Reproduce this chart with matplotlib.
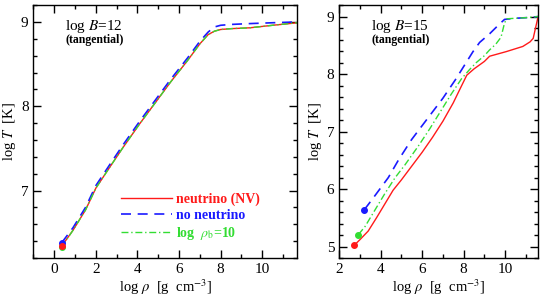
import matplotlib
matplotlib.use("Agg")
import matplotlib.pyplot as plt
from matplotlib.ticker import MultipleLocator

plt.rcParams["font.family"] = ["Liberation Serif", "DejaVu Serif"]
plt.rcParams["mathtext.fontset"] = "stix"

# log B = 12 panel
b12_nv_x = [0.35, 0.9, 1.5, 2.0, 2.7, 3.3, 4.1, 5.6, 6.4, 7.0, 7.4, 7.7, 8.0, 8.5, 9.4, 10.5, 11.7]
b12_nv_y = [6.34, 6.53, 6.77, 7.03, 7.29, 7.51, 7.79, 8.29, 8.54, 8.74, 8.85, 8.89, 8.91, 8.92, 8.93, 8.96, 8.99]
b12_nonu_x = [0.35, 0.9, 1.5, 2.0, 2.7, 3.3, 4.1, 5.6, 6.4, 7.0, 7.4, 7.7, 8.0, 8.5, 9.4, 10.5, 11.7]
b12_nonu_y = [6.38, 6.56, 6.80, 7.06, 7.32, 7.54, 7.82, 8.32, 8.57, 8.77, 8.88, 8.94, 8.96, 8.97, 8.98, 8.99, 9.00]
b12_rb_x = b12_nv_x
b12_rb_y = [6.33, 6.53, 6.77, 7.03, 7.29, 7.51, 7.79, 8.29, 8.54, 8.74, 8.85, 8.89, 8.91, 8.92, 8.93, 8.96, 8.99]

# log B = 15 panel
b15_nv_x = [2.72, 3.0, 3.4, 3.8, 4.2, 4.6, 5.0, 5.5, 6.0, 6.5, 7.0, 7.5, 7.85, 8.15, 8.5, 9.0, 9.25,
            10.05, 10.85, 11.2, 11.35, 11.45, 11.55, 11.6]
b15_nv_y = [5.02, 5.12, 5.27, 5.50, 5.74, 5.98, 6.16, 6.40, 6.64, 6.90, 7.18, 7.50, 7.76, 7.98, 8.09, 8.22, 8.31,
            8.39, 8.48, 8.56, 8.62, 8.78, 8.94, 9.00]
b15_nonu_x = [3.21, 3.57, 4.37, 4.85, 5.49, 6.37, 7.0, 7.6, 8.45, 8.77, 9.25, 9.7, 9.97, 10.5, 11.0, 11.6]
b15_nonu_y = [5.64, 5.81, 6.20, 6.50, 6.86, 7.28, 7.58, 7.90, 8.39, 8.55, 8.70, 8.86, 8.95, 8.97, 8.98, 9.00]
b15_rb_x = [2.93, 3.25, 3.7, 4.2, 4.7, 5.17, 5.8, 6.37, 6.85, 7.4, 7.9, 8.29, 8.61, 9.0, 9.25, 9.55, 9.8,
            9.95, 10.05, 10.5, 11.0, 11.6]
b15_rb_y = [5.21, 5.35, 5.62, 5.92, 6.20, 6.42, 6.74, 7.05, 7.33, 7.65, 7.92, 8.08, 8.20, 8.32, 8.42, 8.52, 8.64,
            8.86, 8.96, 8.97, 8.98, 9.00]

RED = "#ff1a1a"
BLUE = "#1a1aff"
GREEN = "#33dd33"
DASH = (0, (6, 4))
DASHDOT = (0, (5, 2, 1, 2))


def style_axes(ax, xlim, ylim):
    ax.set_xlim(*xlim)
    ax.set_ylim(*ylim)
    ax.xaxis.set_major_locator(MultipleLocator(2))
    ax.xaxis.set_minor_locator(MultipleLocator(1))
    ax.yaxis.set_major_locator(MultipleLocator(1))
    ax.yaxis.set_minor_locator(MultipleLocator(0.2))
    ax.tick_params(which="both", direction="in", top=True, right=True, labelsize=11, width=1.0)
    ax.tick_params(which="major", length=6)
    ax.tick_params(which="minor", length=3)
    for sp in ax.spines.values():
        sp.set_linewidth(1.0)
    ax.set_xlabel(r"log $\rho$  [g  cm$^{-3}$]", fontsize=10.5, labelpad=1)
    ax.set_ylabel(r"log $T$  [K]", fontsize=10.5, labelpad=2)


def draw(ax, nv, nonu, rb):
    ax.plot(*nv, color=RED, lw=1.0, label="neutrino (NV)")
    ax.plot(*nonu, color=BLUE, lw=1.2, ls=DASH, label="no neutrino")
    ax.plot(*rb, color=GREEN, lw=1.0, ls=DASHDOT, label=r"log  $\rho_{\rm b}$=10")
    ax.plot(nonu[0][0], nonu[1][0], "o", color=BLUE, ms=4)
    ax.plot(rb[0][0], rb[1][0], "o", color=GREEN, ms=4)
    ax.plot(nv[0][0], nv[1][0], "o", color=RED, ms=4)


fig = plt.figure(figsize=(5.4, 2.96), dpi=100)
ax1 = fig.add_axes([0.062, 0.128, 0.488, 0.855])
ax2 = fig.add_axes([0.628, 0.128, 0.369, 0.855])

draw(ax1, (b12_nv_x, b12_nv_y), (b12_nonu_x, b12_nonu_y), (b12_rb_x, b12_rb_y))
style_axes(ax1, (-1, 11.67), (6.2, 9.2))
ax1.text(0.12, 0.915, r"log $B$=12", transform=ax1.transAxes, fontsize=11, va="center")
ax1.text(0.12, 0.862, "(tangential)", transform=ax1.transAxes, fontsize=8.5, va="center",
         fontweight="bold")
leg = ax1.legend(loc="lower right", bbox_to_anchor=(0.905, 0.015), frameon=False,
                 handlelength=3.7, handletextpad=0.25, labelspacing=0.2, fontsize=10,
                 labelcolor="linecolor")
for t in leg.get_texts():
    t.set_fontweight("bold")

draw(ax2, (b15_nv_x, b15_nv_y), (b15_nonu_x, b15_nonu_y), (b15_rb_x, b15_rb_y))
style_axes(ax2, (2, 11.6), (4.8, 9.2))
ax2.text(0.16, 0.915, r"log $B$=15", transform=ax2.transAxes, fontsize=11, va="center")
ax2.text(0.16, 0.862, "(tangential)", transform=ax2.transAxes, fontsize=8.5, va="center",
         fontweight="bold")

fig.savefig("out.png", dpi=100)
